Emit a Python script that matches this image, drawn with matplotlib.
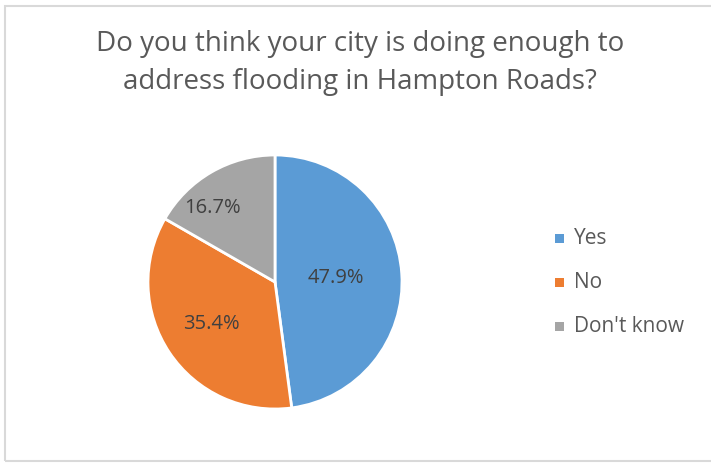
import matplotlib
matplotlib.use("Agg")
import numpy as np
import matplotlib.pyplot as plt
from matplotlib.patches import Rectangle

# ── data ──────────────────────────────────────────────────────────────────────
labels = ["Yes", "No", "Don't know"]
shares = [47.9, 35.4, 16.7]
colors = ["#5B9BD5", "#ED7D31", "#A5A5A5"]
title = "Do you think your city is doing enough to\naddress flooding in Hampton Roads?"

# label placement (excel "best fit"): radius fraction, angle nudge (deg)
lab_r = [0.48, 0.60, 0.76]
lab_nudge = [0, 0, 10]

W, H = 711, 466
plt.rcParams["font.family"] = ["Open Sans", "DejaVu Sans"]
TXT = "#595959"

fig = plt.figure(figsize=(W / 100, H / 100), dpi=100, facecolor="white")

# chart border
fig.patches.append(Rectangle((5 / W, 5 / H), 1.2, (H - 6) / H - 5 / H,
                             transform=fig.transFigure, fill=False,
                             edgecolor="#D9D9D9", linewidth=1.5))

fig.text(360 / W, 1 - 63 / H, title, ha="center", va="center",
         fontsize=20, color=TXT, linespacing=1.5)

# pie centered at (275, 282), radius 127 px
cx, cy, r = 275, 282, 127
ax = fig.add_axes([(cx - r) / W, 1 - (cy + r) / H, 2 * r / W, 2 * r / H])
wedges, texts = ax.pie(shares, colors=colors, startangle=90, counterclock=False,
                       wedgeprops=dict(edgecolor="white", linewidth=2))
ax.set_aspect("equal")
ax.set_xlim(-1, 1)
ax.set_ylim(-1, 1)

start = 90
for s, rr, nd in zip(shares, lab_r, lab_nudge):
    mid = np.deg2rad(start - s * 3.6 / 2 + nd)
    start -= s * 3.6
    ax.text(rr * np.cos(mid), rr * np.sin(mid), f"{s:.1f}%",
            ha="center", va="center", fontsize=14.5, color="#404040")

# legend
for i, (lab, c) in enumerate(zip(labels, colors)):
    y = 238 + 44 * i
    fig.patches.append(Rectangle(((559 - 4.5) / W, 1 - (y + 4.5) / H), 9 / W, 9 / H,
                                 transform=fig.transFigure, facecolor=c,
                                 edgecolor="none"))
    fig.text(574 / W, 1 - y / H, lab, ha="left", va="center",
             fontsize=15, color=TXT)

fig.savefig("out.png", dpi=100)
